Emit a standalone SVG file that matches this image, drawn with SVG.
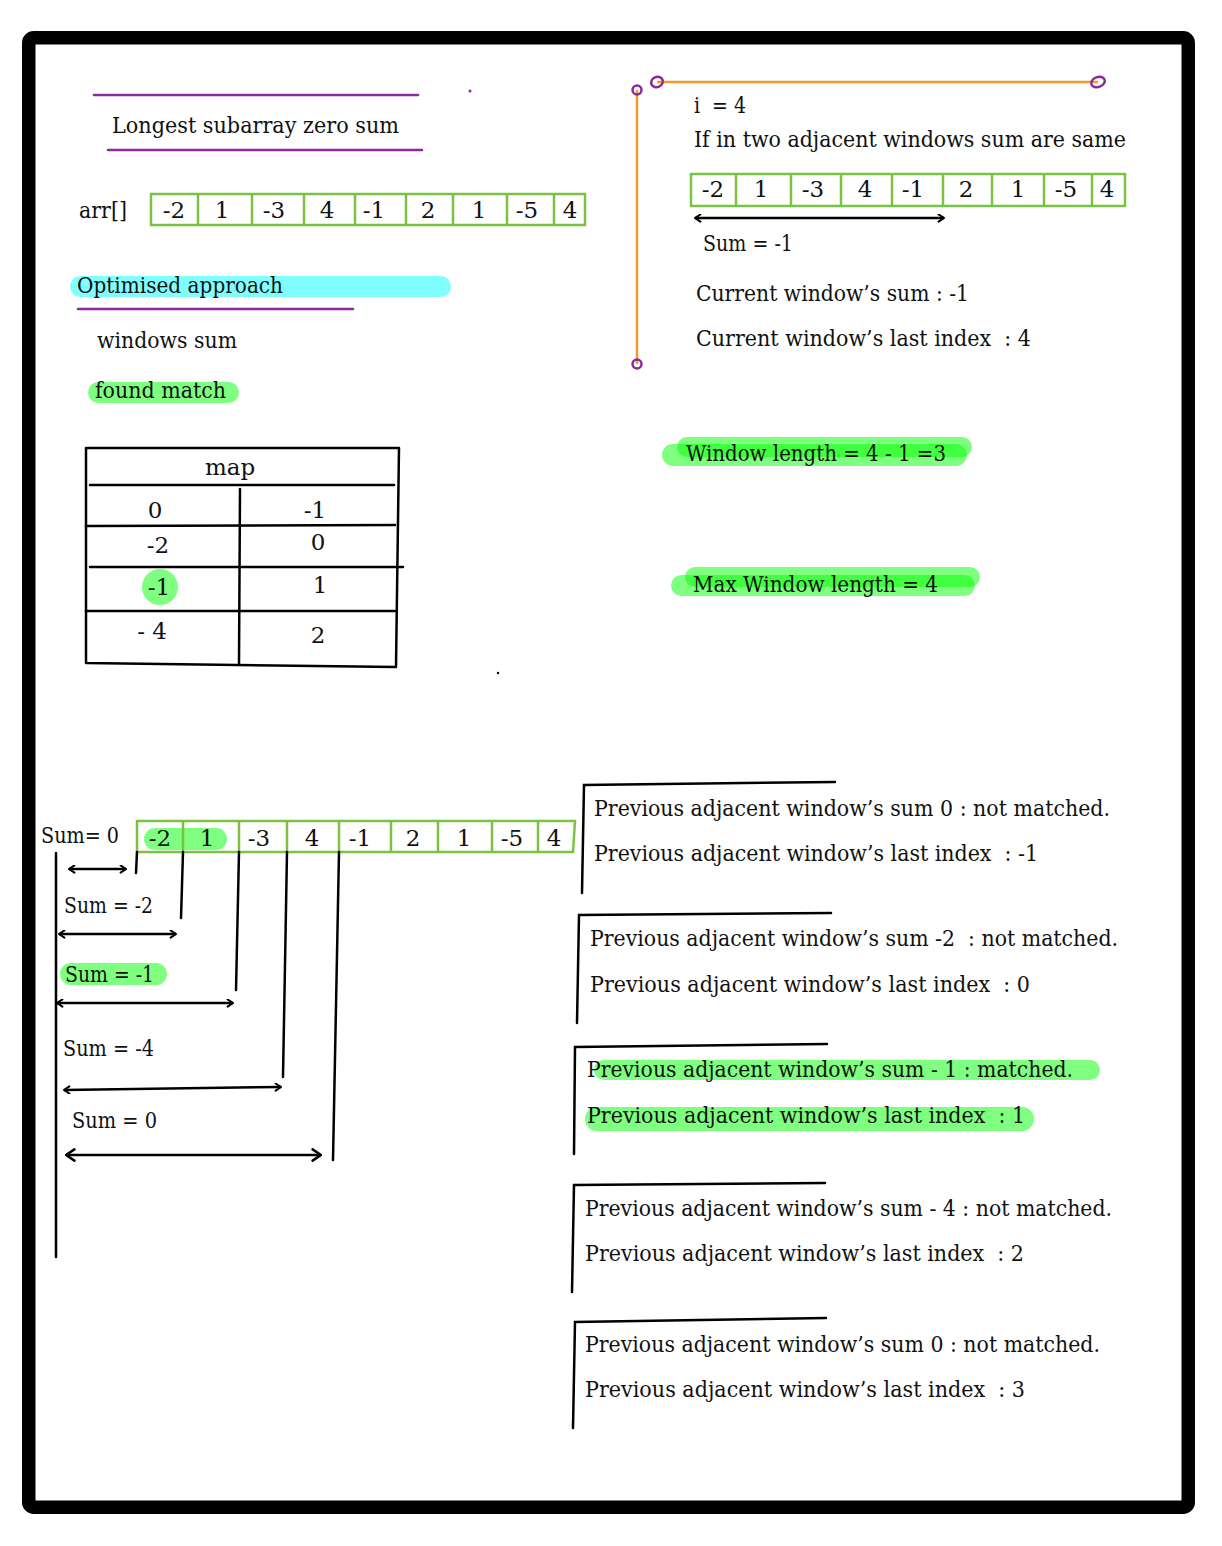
<svg xmlns="http://www.w3.org/2000/svg" width="1222" height="1546" viewBox="0 0 1222 1546">
<style>
text{font-family:"DejaVu Serif","Liberation Serif",serif;font-size:23px;fill:#111;white-space:pre}
.c{text-anchor:middle}
.g{fill:none;stroke:#7cc242;stroke-width:2.5}
.k{fill:none;stroke:#000;stroke-width:2.5;stroke-linecap:round}
.p{fill:none;stroke:#8b2a9b;stroke-width:2.5;stroke-linecap:round}
.o{fill:none;stroke:#f29a2e;stroke-width:2.5}
.hl{fill:#00ff00;fill-opacity:.5}
.cy{fill:#80ffff}
.arr{fill:none;stroke:#000;stroke-width:2.5;marker-start:url(#ah);marker-end:url(#ah)}
</style>
<defs>
<marker id="ah" viewBox="0 0 10 10" refX="9" refY="5" markerWidth="9" markerHeight="9" orient="auto-start-reverse" markerUnits="userSpaceOnUse"><path d="M3,1 L9,5 L3,9" fill="none" stroke="#000" stroke-width="2.2" stroke-linecap="round"/></marker>
<marker id="ahL" viewBox="0 0 10 10" refX="9" refY="5" markerWidth="14" markerHeight="14" orient="auto-start-reverse" markerUnits="userSpaceOnUse"><path d="M3,1 L9,5 L3,9" fill="none" stroke="#000" stroke-width="1.8" stroke-linecap="round"/></marker>
</defs>
<rect x="0" y="0" width="1222" height="1546" fill="#fff"/>
<rect id="frame" x="28.75" y="37.75" width="1159.5" height="1469.5" rx="5" fill="none" stroke="#000" stroke-width="13.5"/>

<g id="title">
<line class="p" x1="94" y1="95" x2="418" y2="95"/>
<text x="112" y="133" font-size="24" textLength="287" lengthAdjust="spacingAndGlyphs">Longest subarray zero sum</text>
<line class="p" x1="108" y1="150" x2="422" y2="150"/>
<circle cx="470" cy="91" r="1.5" fill="#8b2a9b"/>
</g>

<g id="arr-top">
<text x="79" y="218" textLength="48" lengthAdjust="spacingAndGlyphs">arr[]</text>
<rect class="g" x="151" y="194" width="434" height="31"/>
<path class="g" d="M198,194V225M252,194V225M304,194V225M355,194V225M406,194V225M453,194V225M507,194V225M554,194V225"/>
<text class="c" x="174" y="218">-2</text><text class="c" x="222" y="218">1</text><text class="c" x="274" y="218">-3</text><text class="c" x="327" y="218">4</text><text class="c" x="374" y="218">-1</text><text class="c" x="428" y="218">2</text><text class="c" x="479" y="218">1</text><text class="c" x="527" y="218">-5</text><text class="c" x="570" y="218">4</text>
</g>

<g id="optimised">
<rect class="cy" x="70" y="276" width="381" height="21" rx="10.5"/>
<text x="77" y="293" textLength="206" lengthAdjust="spacingAndGlyphs">Optimised approach</text>
<line class="p" x1="78" y1="309" x2="353" y2="309"/>
</g>

<g id="windows-sum">
<text x="97" y="348" textLength="140" lengthAdjust="spacingAndGlyphs">windows sum</text>
</g>

<g id="found-match">
<rect class="hl" x="88" y="382" width="151" height="21" rx="10.5"/>
<text x="95" y="398" textLength="131" lengthAdjust="spacingAndGlyphs">found match</text>
</g>

<g id="map">
<path class="k" d="M86,448 L399,448 L396,667 L86,663 Z" stroke-linejoin="round"/>
<line class="k" x1="90" y1="485" x2="394" y2="485"/>
<line class="k" x1="240" y1="489" x2="239" y2="664"/>
<line class="k" x1="86" y1="526" x2="395" y2="525"/>
<line class="k" x1="90" y1="567" x2="403" y2="567"/>
<line class="k" x1="86" y1="611" x2="395" y2="611"/>
<text class="c" x="230" y="475">map</text>
<text class="c" x="155" y="518">0</text><text class="c" x="315" y="518">-1</text>
<text class="c" x="158" y="553">-2</text><text class="c" x="318" y="550">0</text>
<circle class="hl" cx="160" cy="587" r="18"/>
<text class="c" x="159" y="595">-1</text><text class="c" x="320" y="593">1</text>
<text class="c" x="152" y="639">- 4</text><text class="c" x="318" y="643">2</text>
<circle cx="498" cy="673" r="1.2" fill="#000"/>
</g>

<g id="current-window">
<line class="o" x1="637" y1="90" x2="637" y2="364"/>
<line class="o" x1="657" y1="82" x2="1098" y2="82"/>
<circle cx="637" cy="90" r="4.5" fill="#fff" class="p"/>
<circle cx="637" cy="364" r="4.5" fill="#fff" class="p"/>
<ellipse cx="657" cy="82" rx="6" ry="5" transform="rotate(-25 657 82)" fill="#fff" class="p"/>
<ellipse cx="1098" cy="82" rx="7" ry="5" transform="rotate(-20 1098 82)" fill="#fff" class="p"/>
<text x="694" y="113" textLength="52" lengthAdjust="spacingAndGlyphs">i  = 4</text>
<text x="694" y="147" textLength="432" lengthAdjust="spacingAndGlyphs">If in two adjacent windows sum are same</text>
<rect class="g" x="691" y="174" width="434" height="32"/>
<path class="g" d="M736,174V206M791,174V206M841,174V206M892,174V206M943,174V206M992,174V206M1044,174V206M1092,174V206"/>
<text class="c" x="713" y="197">-2</text><text class="c" x="761" y="197">1</text><text class="c" x="813" y="197">-3</text><text class="c" x="865" y="197">4</text><text class="c" x="913" y="197">-1</text><text class="c" x="966" y="197">2</text><text class="c" x="1018" y="197">1</text><text class="c" x="1066" y="197">-5</text><text class="c" x="1107" y="197">4</text>
<text x="703" y="251" textLength="90" lengthAdjust="spacingAndGlyphs">Sum = -1</text>
<text x="696" y="301" textLength="273" lengthAdjust="spacingAndGlyphs">Current window’s sum : -1</text>
<text x="696" y="346" textLength="335" lengthAdjust="spacingAndGlyphs">Current window’s last index  : 4</text>
</g>

<g id="window-length">
<rect class="hl" x="662" y="444" width="305" height="22" rx="11"/>
<rect class="hl" x="677" y="437" width="295" height="20" rx="10"/>
<text x="686" y="461" textLength="260" lengthAdjust="spacingAndGlyphs">Window length = 4 - 1 =3</text>
</g>

<g id="max-window-length">
<rect class="hl" x="671" y="575" width="304" height="21" rx="10.5"/>
<rect class="hl" x="685" y="567" width="295" height="20" rx="10"/>
<text x="693" y="592" textLength="245" lengthAdjust="spacingAndGlyphs">Max Window length = 4</text>
</g>

<g id="arr-bottom">
<text x="41" y="843" textLength="78" lengthAdjust="spacingAndGlyphs">Sum= 0</text>
<rect class="hl" x="144" y="828" width="83" height="22" rx="11"/>
<path class="g" d="M137,821 L575,821 L573,852 L137,852 Z"/>
<path class="g" d="M183,821V852M239,821V852M287,821V852M339,821V852M391,821V852M438,821V852M492,821V852M538,821V852"/>
<text class="c" x="160" y="846">-2</text><text class="c" x="207" y="846">1</text><text class="c" x="259" y="846">-3</text><text class="c" x="312" y="846">4</text><text class="c" x="360" y="846">-1</text><text class="c" x="413" y="846">2</text><text class="c" x="464" y="846">1</text><text class="c" x="512" y="846">-5</text><text class="c" x="554" y="846">4</text>
</g>

<g id="sum-labels">
<text x="64" y="913" textLength="89" lengthAdjust="spacingAndGlyphs">Sum = -2</text>
<rect class="hl" x="60" y="963" width="107" height="22" rx="11"/>
<text x="65" y="982" textLength="89" lengthAdjust="spacingAndGlyphs">Sum = -1</text>
<text x="63" y="1056" textLength="91" lengthAdjust="spacingAndGlyphs">Sum = -4</text>
<text x="72" y="1128" textLength="85" lengthAdjust="spacingAndGlyphs">Sum = 0</text>
</g>

<g id="connectors">
<line class="k" x1="56" y1="853" x2="56" y2="1257"/>
<line class="k" x1="137" y1="852" x2="136" y2="873"/>
<line class="k" x1="183" y1="852" x2="181" y2="918"/>
<line class="k" x1="239" y1="852" x2="236" y2="990"/>
<line class="k" x1="287" y1="852" x2="283" y2="1077"/>
<line class="k" x1="339" y1="852" x2="333" y2="1160"/>
<line class="arr" x1="69" y1="869" x2="126" y2="869"/>
<line class="arr" x1="59" y1="934" x2="176" y2="934"/>
<line class="arr" x1="57" y1="1003" x2="233" y2="1003"/>
<line class="arr" x1="64" y1="1090" x2="281" y2="1087"/>
<line x1="66" y1="1155" x2="321" y2="1155" stroke="#000" stroke-width="2.5" marker-start="url(#ahL)" marker-end="url(#ahL)"/>
<line class="arr" x1="695" y1="218" x2="944" y2="218"/>
</g>

<g id="prev-1">
<path class="k" d="M582,893 L584,785 L835,782"/>
<text x="594" y="816" textLength="516" lengthAdjust="spacingAndGlyphs">Previous adjacent window’s sum 0 : not matched.</text>
<text x="594" y="861" textLength="444" lengthAdjust="spacingAndGlyphs">Previous adjacent window’s last index  : -1</text>
</g>

<g id="prev-2">
<path class="k" d="M577,1023 L579,915 L831,913"/>
<text x="590" y="946" textLength="528" lengthAdjust="spacingAndGlyphs">Previous adjacent window’s sum -2  : not matched.</text>
<text x="590" y="992" textLength="440" lengthAdjust="spacingAndGlyphs">Previous adjacent window’s last index  : 0</text>
</g>

<g id="prev-3">
<path class="k" d="M574,1154 L575,1047 L827,1044"/>
<rect class="hl" x="594" y="1060" width="506" height="20" rx="10"/>
<rect class="hl" x="585" y="1107" width="449" height="24" rx="12"/>
<text x="587" y="1077" textLength="486" lengthAdjust="spacingAndGlyphs">Previous adjacent window’s sum - 1 : matched.</text>
<text x="587" y="1123" textLength="438" lengthAdjust="spacingAndGlyphs">Previous adjacent window’s last index  : 1</text>
</g>

<g id="prev-4">
<path class="k" d="M572,1292 L574,1185 L825,1183"/>
<text x="585" y="1216" textLength="527" lengthAdjust="spacingAndGlyphs">Previous adjacent window’s sum - 4 : not matched.</text>
<text x="585" y="1261" textLength="439" lengthAdjust="spacingAndGlyphs">Previous adjacent window’s last index  : 2</text>
</g>

<g id="prev-5">
<path class="k" d="M573,1428 L575,1322 L826,1318"/>
<text x="585" y="1352" textLength="515" lengthAdjust="spacingAndGlyphs">Previous adjacent window’s sum 0 : not matched.</text>
<text x="585" y="1397" textLength="440" lengthAdjust="spacingAndGlyphs">Previous adjacent window’s last index  : 3</text>
</g>
</svg>
